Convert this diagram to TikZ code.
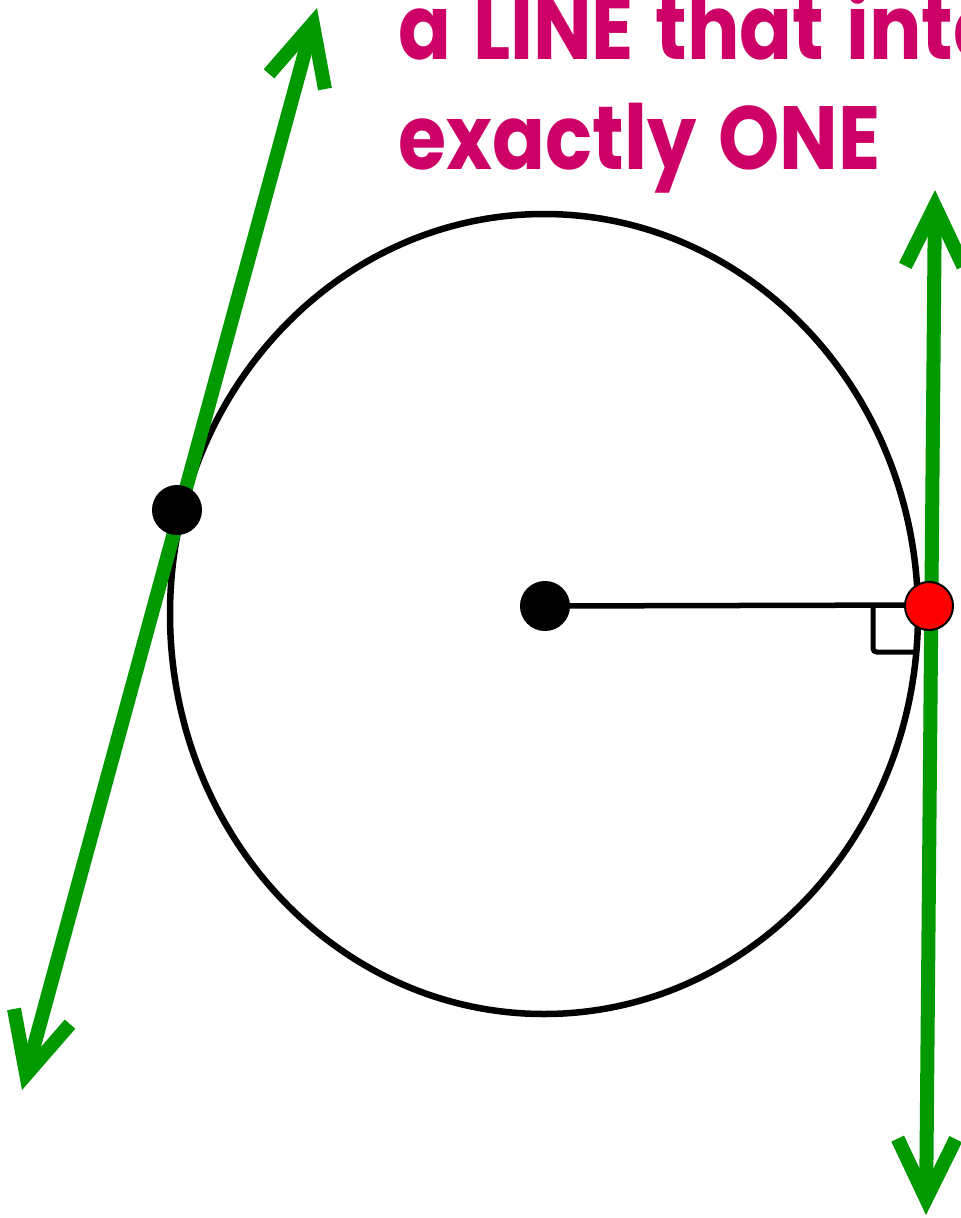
\documentclass[tikz,border=0pt]{standalone}
\usepackage{fontspec}
\setmainfont{Poppins}[WordSpace=1.3]
\usetikzlibrary{arrows.meta,calc,positioning}
\definecolor{tanGreen}{RGB}{0,153,0}
\definecolor{defPink}{RGB}{204,0,102}
\definecolor{ptRed}{RGB}{255,0,0}

\begin{document}
\begin{tikzpicture}[x=0.01cm,y=-0.01cm,
    dot/.style={circle,fill=black,inner sep=0pt,minimum size=0.5cm},
    tangent/.style={tanGreen,line width=0.14cm,line join=miter,
      {Straight Barb[length=0.6cm,width=0.58cm]}-{Straight Barb[length=0.6cm,width=0.58cm]}},
    deftext/.style={text=defPink,font=\bfseries\fontsize{25.5pt}{32pt}\selectfont,
      inner sep=0pt,anchor=base west,xscale=0.87,transform shape}]
    \useasboundingbox (0,0) rectangle (961,1218);
    \clip (0,0) rectangle (961,1218);
    % circle
    \draw[line width=0.065cm] (544,614) ellipse[x radius=374,y radius=400];
    % text
    \node[deftext] (line1) at (398,60) {a LINE that intersects};
    \node[deftext] (line2) at (398,169) {exactly ONE};
    % tangent lines
    \coordinate (la) at (317,8);
    \coordinate (lb) at (22,1090);
    \coordinate (ra) at (935,190);
    \coordinate (rb) at (926,1215);
    \draw[tangent] (la) -- (lb);
    \draw[tangent] (ra) -- (rb);
    % radius and right angle
    \node[dot] (center) at (545,606) {};
    \coordinate (sq) at (873,605);
    \draw[line width=0.055cm] (center.center) -- (929,605);
    \draw[line width=0.05cm,rounded corners=1] (sq) -- (873,652) -- (918,652);
    % points of tangency
    \node[dot] (touch) at (177,510) {};
    \node[circle,fill=ptRed,draw=black,line width=0.02cm,inner sep=0pt,minimum size=0.48cm] (ptR) at (929,606) {};
\end{tikzpicture}
\end{document}
